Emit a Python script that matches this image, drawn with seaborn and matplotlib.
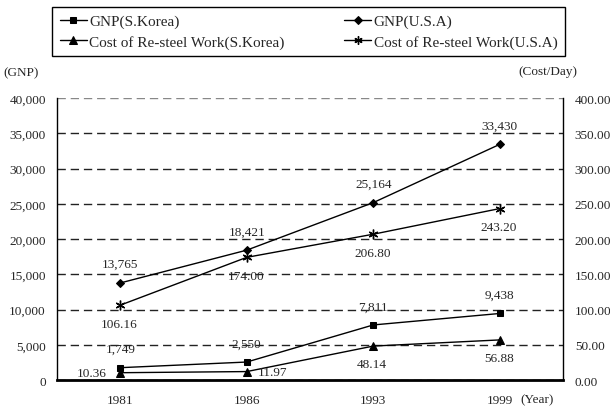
import numpy as np
import pandas as pd
import seaborn as sns
import matplotlib.pyplot as plt
from matplotlib.ticker import StrMethodFormatter

sns.set_style("white")
plt.rcParams['font.family'] = ['Liberation Serif', 'DejaVu Serif']
plt.rcParams['font.size'] = 9.5

# data
years = ["1981", "1986", "1993", "1999"]
gnp_korea = [1749, 2550, 7811, 9438]
gnp_usa = [13765, 18421, 25164, 33430]
cost_korea = [10.36, 11.97, 48.14, 56.88]
cost_usa = [106.16, 174.00, 206.80, 243.20]

gnp_ticks = list(range(0, 40001, 5000))
cost_ticks = list(range(0, 401, 50))

df = pd.DataFrame({
    "Year": years,
    "GNP(S.Korea)": gnp_korea,
    "GNP(U.S.A)": gnp_usa,
    "Cost of Re-steel Work(S.Korea)": cost_korea,
    "Cost of Re-steel Work(U.S.A)": cost_usa,
})

fig = plt.figure(figsize=(6.1, 4.1), dpi=100)
ax = fig.add_axes([0.0934, 0.0707, 0.8296, 0.6878])
ax2 = ax.twinx()

mk = dict(color="black", linewidth=1, markeredgecolor="black", markerfacecolor="black")

sns.lineplot(data=df, x="Year", y="GNP(S.Korea)", marker="s", markersize=5,
             ax=ax, label="GNP(S.Korea)", **mk)
sns.lineplot(data=df, x="Year", y="GNP(U.S.A)", marker="D", markersize=4.5,
             ax=ax, label="GNP(U.S.A)", **mk)
sns.lineplot(data=df, x="Year", y="Cost of Re-steel Work(S.Korea)", marker="^",
             markersize=6, ax=ax2, label="Cost of Re-steel Work(S.Korea)", **mk)
sns.lineplot(data=df, x="Year", y="Cost of Re-steel Work(U.S.A)", marker=(6, 2, 0),
             markersize=7, markeredgewidth=1, ax=ax2,
             label="Cost of Re-steel Work(U.S.A)", **mk)

# value labels
for i, v in enumerate(gnp_korea):
    ax.annotate(f"{v:,}", (i, v), xytext=(0, 13.3), textcoords="offset points",
                ha="center", va="center")
for i, v in enumerate(gnp_usa):
    ax.annotate(f"{v:,}", (i, v), xytext=(0, 13.6), textcoords="offset points",
                ha="center", va="center")
for i, v in enumerate(cost_usa):
    ax2.annotate(f"{v:.2f}", (i, v), xytext=(-0.5, -13.3), textcoords="offset points",
                 ha="center", va="center")
k_offsets = [(-10, -0.5, "right"), (8, -0.5, "left"), (-1, -13.2, "center"), (-0.5, -13.2, "center")]
for i, (v, (dx, dy, ha)) in enumerate(zip(cost_korea, k_offsets)):
    ax2.annotate(f"{v:.2f}", (i, v), xytext=(dx, dy), textcoords="offset points",
                 ha=ha, va="center")

# axes
ax.set_xlim(-0.5, len(years) - 0.5)
ax.set_ylim(0, 40000)
ax2.set_ylim(0, 400)
ax.set_yticks(gnp_ticks)
ax2.set_yticks(cost_ticks)
ax.yaxis.set_major_formatter(StrMethodFormatter("{x:,.0f}"))
ax2.yaxis.set_major_formatter(StrMethodFormatter("{x:.2f}"))
ax.set_xlabel("")
ax.set_ylabel("")
ax2.set_ylabel("")

ax.set_xticks(np.arange(len(years)))
ax.set_xticklabels(years)
ax.set_xticks(np.arange(len(years) - 1) + 0.5, minor=True)
ax.tick_params(axis="x", which="major", length=0, pad=10)
ax.tick_params(axis="x", which="minor", direction="in", length=3, width=1, color="black")
ax.tick_params(axis="y", length=0, pad=8)
ax2.tick_params(axis="y", length=0, pad=8.5)

ax.yaxis.grid(True, linestyle=(0, (6, 3.5)), color="#222222", linewidth=1)
ax.xaxis.grid(False)
ax2.grid(False)
ax.yaxis.get_gridlines()[-1].set_color("#888888")
ax.set_axisbelow(True)

for a in (ax, ax2):
    a.spines["top"].set_visible(False)
ax.spines["left"].set_color("black")
ax.spines["left"].set_linewidth(1)
ax.spines["bottom"].set_color("black")
ax.spines["bottom"].set_linewidth(2)
ax.spines["right"].set_visible(False)
ax2.spines["left"].set_visible(False)
ax2.spines["bottom"].set_visible(False)
ax2.spines["right"].set_color("black")
ax2.spines["right"].set_linewidth(1)

# legend
h1, l1 = ax.get_legend_handles_labels()
h2, l2 = ax2.get_legend_handles_labels()
ax.get_legend().remove()
ax2.get_legend().remove()
handles = [h1[0], h2[0], h1[1], h2[1]]
labels = [l1[0], l2[0], l1[1], l2[1]]
leg = fig.legend(handles, labels, ncol=2, loc="center", mode="expand",
                 bbox_to_anchor=(52 / 610, 1 - 57 / 410, 513 / 610, 49 / 410),
                 fontsize=11, frameon=True, fancybox=False, framealpha=1,
                 edgecolor="black", handlelength=1.8, handletextpad=0.15,
                 labelspacing=0.45, borderpad=0.5, borderaxespad=0,
                 markerscale=0.85)
leg.get_frame().set_linewidth(1)
leg._legend_box.align = "left"

fig.text(21 / 610, 1 - 73 / 410, "(GNP)", ha="center", va="center")
fig.text(548 / 610, 1 - 72 / 410, "(Cost/Day)", ha="center", va="center")
fig.text(537 / 610, 1 - 400 / 410, "(Year)", ha="center", va="center")

fig.savefig("out.png", dpi=100)
